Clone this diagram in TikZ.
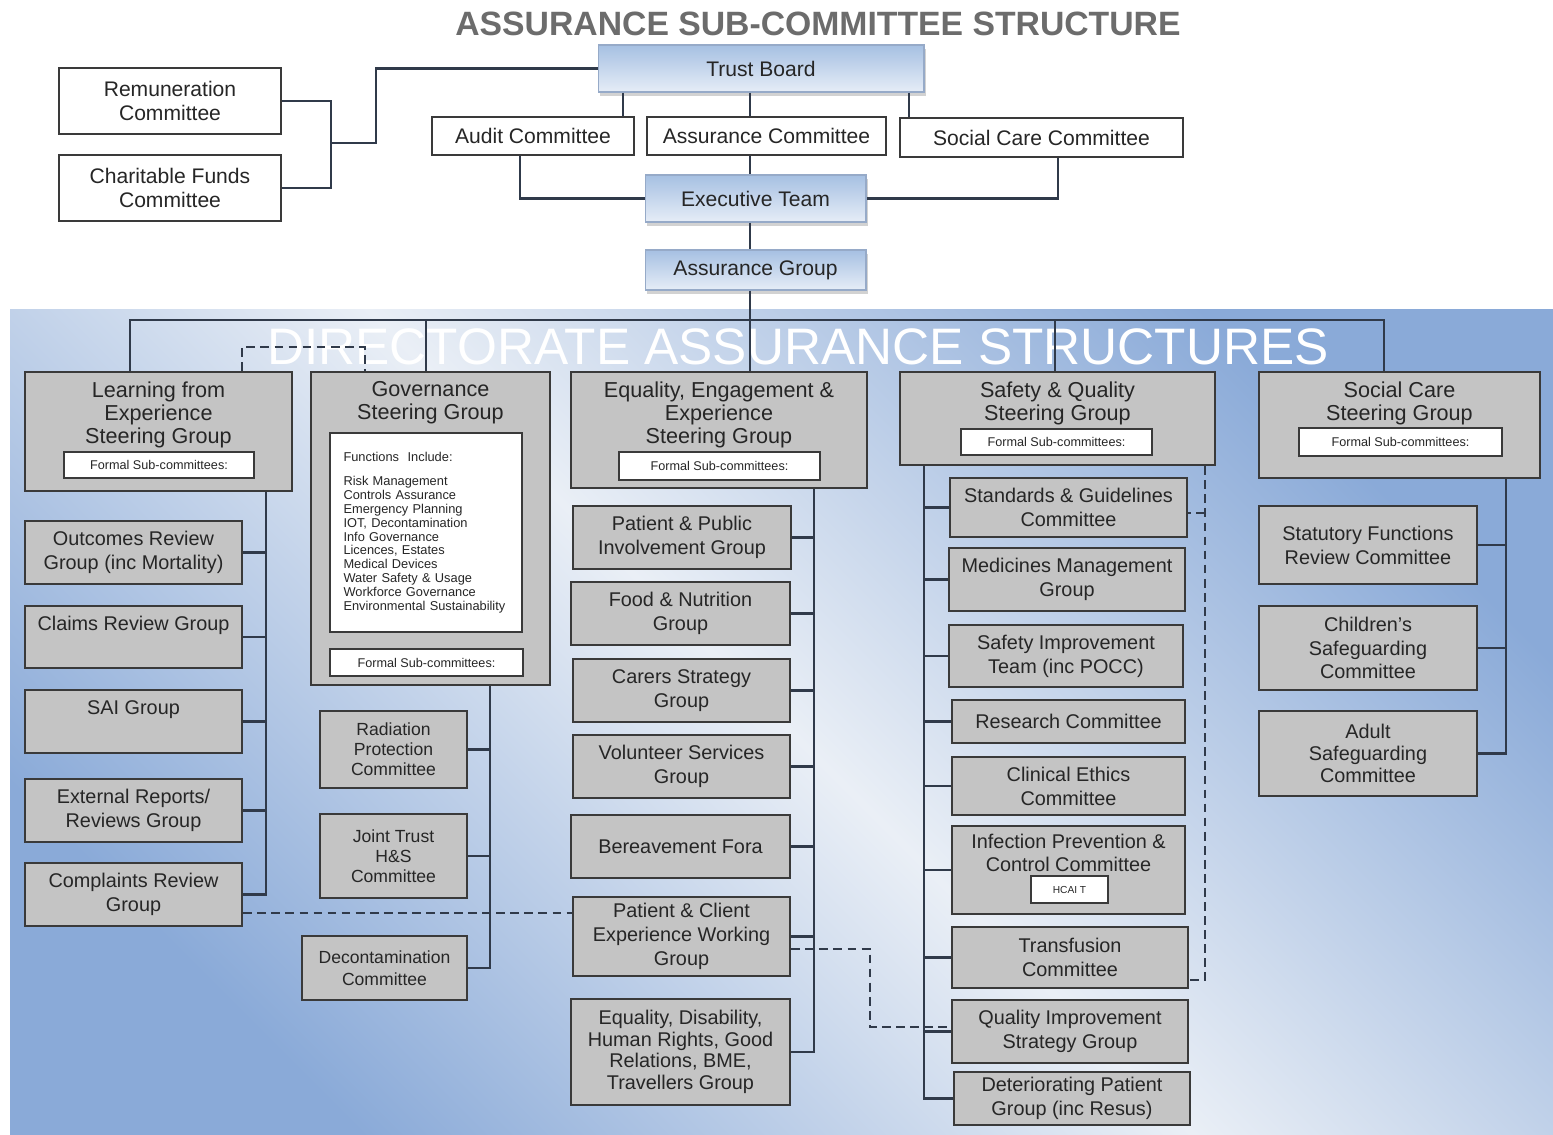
\documentclass[tikz,border=0pt]{standalone}
\usepackage{fontspec}
\setmainfont{Liberation Sans}
\usetikzlibrary{positioning,shadows}
\definecolor{linecol}{RGB}{48,58,74}
\definecolor{boxgray}{RGB}{196,196,196}
\definecolor{boxline}{RGB}{58,58,58}
\definecolor{textcol}{RGB}{38,38,38}
\definecolor{titlegray}{RGB}{108,108,108}
\definecolor{panelblue}{RGB}{138,170,216}
\definecolor{panelpale}{RGB}{234,239,246}
\definecolor{tbtop}{RGB}{166,192,226}
\definecolor{tbbot}{RGB}{230,237,247}
\definecolor{tbedge}{RGB}{150,170,200}

\begin{document}
\begin{tikzpicture}[x=0.02cm,y=-0.02cm,text=textcol,
    topbox/.style={draw=boxline,fill=white,line width=1.3pt,align=center,inner sep=0pt,font=\fontsize{12}{14}\selectfont},
    bluebox/.style={top color=tbtop,bottom color=tbbot,draw=tbedge,line width=0.6pt,inner sep=0pt,
        font=\fontsize{12}{14}\selectfont,drop shadow={shadow xshift=1pt,shadow yshift=-2pt,opacity=0.35}},
    sgbox/.style={draw=boxline,fill=boxgray,line width=1.5pt,inner sep=0pt},
    sgtext/.style={align=center,inner sep=0pt,font=\fontsize{12.3}{13.2}\selectfont},
    formal/.style={draw=boxline,fill=white,line width=1pt,inner sep=0pt,font=\fontsize{7.2}{8}\selectfont},
    link/.style={draw=linecol,line width=1.2pt},
    dlink/.style={draw=linecol,line width=1.1pt,dash pattern=on 5pt off 3pt}]
    \useasboundingbox (0,0) rectangle (1553,1135);
    \fill[white] (0,0) rectangle (1553,1135);
    \shade[top color=panelblue,bottom color=panelblue,middle color=panelpale,shading angle=-45] (10,310) rectangle (1553,1135);

    \node[font=\bfseries\fontsize{19.2}{22}\selectfont,text=titlegray] (title) at (818,24) {ASSURANCE SUB-COMMITTEE STRUCTURE};
    \node[font=\fontsize{29.2}{32}\selectfont,text=white] (dirtitle) at (798,347) {DIRECTORATE ASSURANCE STRUCTURES};

    \node[topbox,minimum width=4.44cm,minimum height=1.32cm] (rem) at (170,101) {Remuneration\\Committee};
    \node[topbox,minimum width=4.44cm,minimum height=1.32cm] (cf) at (170,188) {Charitable Funds\\Committee};
    \node[bluebox,minimum width=6.52cm,minimum height=0.94cm] (tb) at (761,68.5) {Trust Board};
    \node[topbox,minimum width=4.04cm,minimum height=0.76cm] (audit) at (533,136) {Audit Committee};
    \node[topbox,minimum width=4.78cm,minimum height=0.76cm] (acom) at (766.5,136) {Assurance Committee};
    \node[topbox,minimum width=5.66cm,minimum height=0.78cm] (scc) at (1041.5,137.5) {Social Care Committee};
    \node[bluebox,minimum width=4.42cm,minimum height=0.94cm] (exec) at (755.5,198.5) {Executive Team};
    \node[bluebox,minimum width=4.42cm,minimum height=0.80cm] (ag) at (755.5,270) {Assurance Group};
    \coordinate (j1) at (331,143);

    \node[sgbox,minimum width=5.34cm,minimum height=2.38cm] (lfe) at (158.5,431.5) {};
    \node[sgtext,below=6pt of lfe.north] (lfet) {Learning from\\Experience\\Steering Group};
    \node[formal,minimum width=3.8cm,minimum height=0.52cm] (lfef) at (159,465) {Formal Sub-committees:};

    \node[sgbox,minimum width=4.78cm,minimum height=6.26cm] (gov) at (430.5,528.5) {};
    \node[sgtext,below=6pt of gov.north] (govt) {Governance\\Steering Group};
    \node[formal,minimum width=3.84cm,minimum height=3.98cm,text width=3.3cm,align=left,font=\fontsize{7.3}{7.9}\selectfont] (fn) at (426,532.5)
        {Functions\ \ Include:\\[6pt]Risk Management\\Controls Assurance\\Emergency Planning\\IOT, Decontamination\\Info Governance\\Licences, Estates\\Medical Devices\\Water Safety \& Usage\\Workforce Governance\\Environmental Sustainability};
    \node[formal,minimum width=3.86cm,minimum height=0.54cm] (govf) at (426.5,662.5) {Formal Sub-committees:};

    \node[sgbox,minimum width=5.92cm,minimum height=2.32cm] (eee) at (719,430) {};
    \node[sgtext,below=6pt of eee.north] (eeet) {Equality, Engagement \&\\Experience\\Steering Group};
    \node[formal,minimum width=4.02cm,minimum height=0.56cm] (eeef) at (719.5,466) {Formal Sub-committees:};

    \node[sgbox,minimum width=6.30cm,minimum height=1.86cm] (sq) at (1057.5,418.5) {};
    \node[sgtext,below=6pt of sq.north] (sqt) {Safety \& Quality\\Steering Group};
    \node[formal,minimum width=3.82cm,minimum height=0.52cm] (sqf) at (1056.5,442) {Formal Sub-committees:};

    \node[sgbox,minimum width=5.62cm,minimum height=2.12cm] (scg) at (1399.5,425) {};
    \node[sgtext,below=6pt of scg.north] (scgt) {Social Care\\Steering Group};
    \node[formal,minimum width=4.06cm,minimum height=0.56cm] (scgf) at (1400.5,442) {Formal Sub-committees:};

    \begin{scope}[every node/.style={draw=boxline,fill=boxgray,line width=1.5pt,align=center,inner sep=0pt,
            font=\fontsize{11.3}{13.6}\selectfont,minimum width=4.34cm,minimum height=1.26cm}]
        \node (orc) at (133.5,552.5) {Outcomes Review\\Group (inc Mortality)};
        \node[minimum height=1.24cm] (crg) at (133.5,637) {Claims Review Group\\[2pt]\mbox{}};
        \node (sai) at (133.5,721.5) {SAI Group\\[2pt]\mbox{}};
        \node (err) at (133.5,810.5) {External Reports/\\Reviews Group};
        \node (cmp) at (133.5,894.5) {Complaints Review\\Group};

        \node[minimum width=4.36cm] (ppi) at (682,537.5) {Patient \& Public\\Involvement Group};
        \node[minimum width=4.38cm] (fng) at (680.5,613.5) {Food \& Nutrition\\Group};
        \node (csg) at (681.5,690.5) {Carers Strategy\\Group};
        \node (vsg) at (681.5,766.5) {Volunteer Services\\Group};
        \node[minimum width=4.38cm] (bf) at (680.5,846.5) {Bereavement Fora};
        \node[minimum height=1.58cm] (pce) at (681.5,936.5) {Patient \& Client\\Experience Working\\Group};
        \node[minimum width=4.38cm,minimum height=2.12cm,font=\fontsize{11.3}{12.3}\selectfont] (edh) at (680.5,1052)
            {Equality, Disability,\\Human Rights, Good\\Relations, BME,\\Travellers Group};

        \node[minimum width=4.74cm,minimum height=1.18cm] (sgc) at (1068.5,507.5) {Standards \& Guidelines\\Committee};
        \node[minimum width=4.72cm] (mmg) at (1067,579.5) {Medicines Management\\Group};
        \node[minimum width=4.68cm,minimum height=1.24cm] (sit) at (1066,656) {Safety Improvement\\Team (inc POCC)};
        \node[minimum width=4.66cm,minimum height=0.86cm] (rc) at (1068.5,721.5) {Research Committee};
        \node[minimum width=4.66cm,minimum height=1.16cm] (cec) at (1068.5,786) {Clinical Ethics\\Committee};
        \node[minimum width=4.66cm,minimum height=1.76cm] (ipc) at (1068.5,870) {Infection Prevention \&\\Control Committee\\[6pt]\mbox{}};
        \node[minimum width=4.72cm,minimum height=1.22cm] (tfc) at (1070,957.5) {Transfusion\\Committee};
        \node[minimum width=4.72cm] (qis) at (1070,1031.5) {Quality Improvement\\Strategy Group};
        \node[minimum width=4.72cm,minimum height=1.06cm] (dpg) at (1072,1098.5) {Deteriorating Patient\\Group (inc Resus)};

        \node[minimum width=4.36cm,minimum height=1.56cm] (sfr) at (1368,545) {Statutory Functions\\Review Committee};
        \node[minimum width=4.36cm,minimum height=1.68cm,font=\fontsize{11.3}{13.2}\selectfont] (csc) at (1368,648) {Children's\\Safeguarding\\Committee};
        \node[minimum width=4.36cm,minimum height=1.70cm,font=\fontsize{11.3}{12.5}\selectfont] (asc) at (1368,753.5) {Adult\\Safeguarding\\Committee};
    \end{scope}
    \begin{scope}[every node/.style={draw=boxline,fill=boxgray,line width=1.5pt,align=center,inner sep=0pt,
            font=\fontsize{10}{11.5}\selectfont,minimum width=2.94cm}]
        \node[minimum height=1.54cm] (rad) at (393.5,749.5) {Radiation\\Protection\\Committee};
        \node[minimum height=1.68cm] (jt) at (393.5,856) {Joint Trust\\H\&S\\Committee};
        \node[minimum width=3.30cm,minimum height=1.28cm,font=\fontsize{10}{12.5}\selectfont] (dec) at (384.5,968) {Decontamination\\Committee};
    \end{scope}
    \node[formal,minimum width=1.54cm,minimum height=0.54cm,font=\fontsize{5.8}{6}\selectfont] (hcai) at (1069.5,889.5) {HCAI T};

    \draw[link] (rem.east) -| (j1);
    \draw[link] (cf.east) -| (j1);
    \draw[link] (j1) -- (376,143) |- (tb.west);
    \draw[link] (tb.south -| 623,0) -- (audit.north -| 623,0);
    \draw[link] (tb.south -| 750,0) -- (acom.north -| 750,0);
    \draw[link] (tb.south -| 909,0) -- (scc.north -| 909,0);
    \draw[link] (acom.south -| 750,0) -- (exec.north -| 750,0);
    \draw[link] (audit.south -| 520,0) |- (exec.west);
    \draw[link] (scc.south -| 1058,0) |- (exec.east);
    \draw[link] (exec.south -| 750,0) -- (ag.north -| 750,0);
    \draw[link] (ag.south -| 750,0) -- (eee.north -| 750,0);
    \draw[link] (lfe.north -| 130,0) -- (130,320) -- (1384,320) -- (scg.north -| 1384,0);
    \draw[link] (gov.north -| 426,0) -- (426,320);
    \draw[link] (sq.north -| 1055,0) -- (1055,320);

    \draw[link] (lfe.south -| 266,0) |- (cmp.east);
    \draw[link] (orc.east) -- (orc.east -| 266,0);
    \draw[link] (crg.east) -- (crg.east -| 266,0);
    \draw[link] (sai.east) -- (sai.east -| 266,0);
    \draw[link] (err.east) -- (err.east -| 266,0);

    \draw[link] (gov.south -| 490,0) |- (dec.east);
    \draw[link] (rad.east) -- (rad.east -| 490,0);
    \draw[link] (jt.east) -- (jt.east -| 490,0);

    \draw[link] (eee.south -| 814,0) |- (edh.east);
    \draw[link] (ppi.east) -- (ppi.east -| 814,0);
    \draw[link] (fng.east) -- (fng.east -| 814,0);
    \draw[link] (csg.east) -- (csg.east -| 814,0);
    \draw[link] (vsg.east) -- (vsg.east -| 814,0);
    \draw[link] (bf.east) -- (bf.east -| 814,0);
    \draw[link] (pce.east) -- (pce.east -| 814,0);

    \draw[link] (sq.south -| 924,0) |- (dpg.west);
    \draw[link] (sgc.west) -- (sgc.west -| 924,0);
    \draw[link] (mmg.west) -- (mmg.west -| 924,0);
    \draw[link] (sit.west) -- (sit.west -| 924,0);
    \draw[link] (rc.west) -- (rc.west -| 924,0);
    \draw[link] (cec.west) -- (cec.west -| 924,0);
    \draw[link] (ipc.west) -- (ipc.west -| 924,0);
    \draw[link] (tfc.west) -- (tfc.west -| 924,0);
    \draw[link] (qis.west) -- (qis.west -| 924,0);

    \draw[link] (scg.south -| 1506,0) |- (asc.east);
    \draw[link] (sfr.east) -- (sfr.east -| 1506,0);
    \draw[link] (csc.east) -- (csc.east -| 1506,0);

    \draw[dlink] (lfe.north -| 242,0) -- (242,347) -| (gov.north -| 365,0);
    \draw[dlink] (cmp.east |- 0,913) -- (pce.west |- 0,913);
    \draw[dlink] (pce.east |- 0,949) -| (870,1027) -- (qis.west |- 0,1027);
    \draw[dlink] (sq.south -| 1205,0) |- (tfc.east |- 0,980);
    \draw[dlink] (1205,513) -- (sgc.east |- 0,513);
\end{tikzpicture}
\end{document}
